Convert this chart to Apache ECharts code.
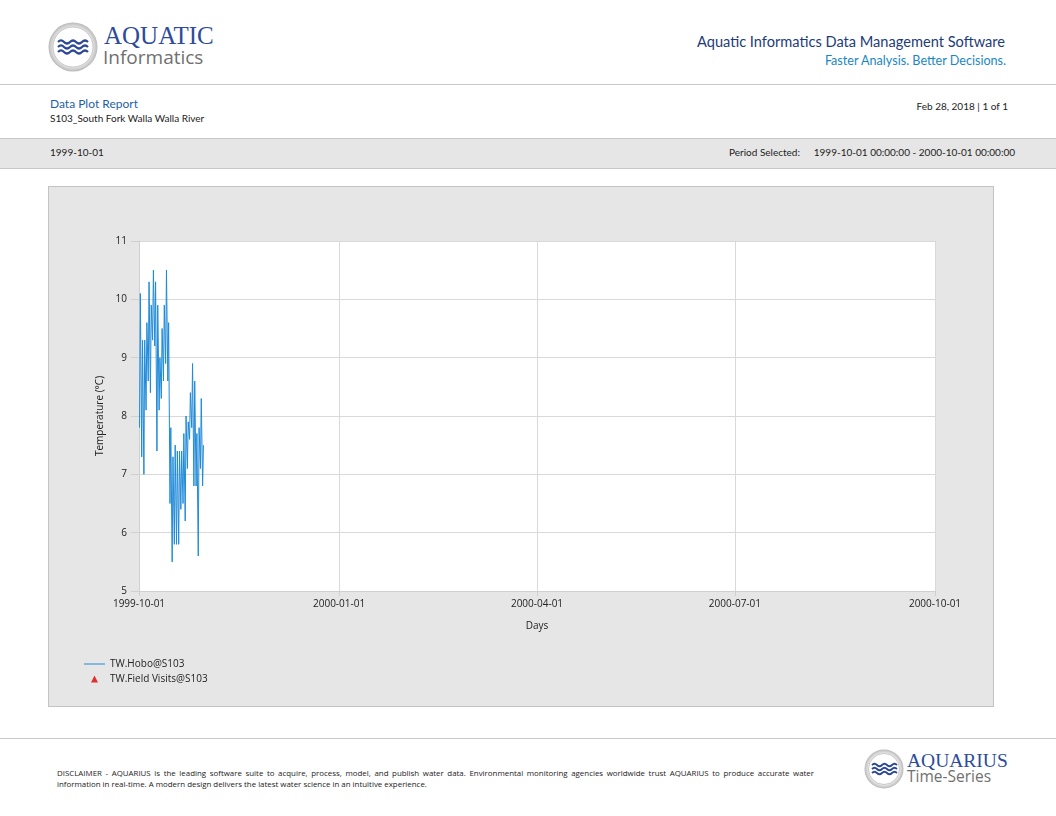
<!DOCTYPE html>
<html>
<head>
<meta charset="utf-8">
<script src="https://cdn.jsdelivr.net/npm/echarts@6/dist/echarts.min.js"></script>
<style>
  html, body { margin:0; padding:0; background:#fff; }
  body { width:1056px; height:816px; position:relative; overflow:hidden; font-family:"Open Sans", Lato, sans-serif; }
  .abs { position:absolute; white-space:nowrap; line-height:1.15; }
  #chart { position:absolute; left:48px; top:186px; width:946px; height:521px; }
  #panel { position:absolute; left:48px; top:186px; width:944px; height:519px; background:#e6e6e6; border:1px solid #c3c3c3; }
</style>
</head>
<body>
<!-- header logo -->
<svg class="abs" style="left:46px;top:21px" width="56" height="54" viewBox="0 0 56 54">
  <defs>
    <radialGradient id="rg" cx="50%" cy="50%" r="50%">
      <stop offset="80%" stop-color="#e8e8e8"/>
      <stop offset="100%" stop-color="#b9b9b9"/>
    </radialGradient>
  </defs>
  <circle cx="27" cy="26" r="24.5" fill="url(#rg)"/>
  <circle cx="27" cy="26" r="20" fill="#fff" stroke="#c9c9c9" stroke-width="1"/>
  <g fill="none" stroke="#2b4796" stroke-width="2.2">
    <path d="M12 21 q3 -3 6 0 t6 0 t6 0 t6 0 t6 0"/>
    <path d="M12 26 q3 -3 6 0 t6 0 t6 0 t6 0 t6 0"/>
    <path d="M12 31 q3 -3 6 0 t6 0 t6 0 t6 0 t6 0"/>
  </g>
</svg>
<div class="abs" style="left:104px;top:22px;font-family:'Liberation Serif',serif;font-size:25px;color:#2d4b9a">AQUATIC</div>
<div class="abs" style="left:103px;top:47px;font-family:'Open Sans',sans-serif;font-size:19px;color:#707070">Informatics</div>

<div class="abs" style="right:51px;top:34px;font-family:Lato,sans-serif;font-size:14.6px;color:#1d3c78">Aquatic Informatics Data Management Software</div>
<div class="abs" style="right:50px;top:54px;font-family:Lato,sans-serif;font-size:12.6px;color:#1b87c2">Faster Analysis. Better Decisions.</div>

<div class="abs" style="left:0;top:84px;width:1056px;height:1px;background:#c8c8c8"></div>

<div class="abs" style="left:50px;top:97px;font-family:Lato,sans-serif;font-size:12px;color:#1f5fa8">Data Plot Report</div>
<div class="abs" style="left:50px;top:113px;font-family:Lato,sans-serif;font-size:10px;color:#222">S103_South Fork Walla Walla River</div>
<div class="abs" style="right:48px;top:101px;font-family:Lato,sans-serif;font-size:10px;color:#222">Feb 28, 2018 | 1 of 1</div>

<div class="abs" style="left:0;top:138px;width:1056px;height:29px;background:#e6e6e6;border-top:1px solid #c8c8c8;border-bottom:1px solid #c8c8c8"></div>
<div class="abs" style="left:50px;top:147px;font-family:Lato,sans-serif;font-size:10px;color:#222">1999-10-01</div>
<div class="abs" style="left:729px;top:147px;font-family:Lato,sans-serif;font-size:10px;color:#222">Period Selected:</div>
<div class="abs" style="right:41px;top:147px;font-family:Lato,sans-serif;font-size:10px;color:#222">1999-10-01 00:00:00 - 2000-10-01 00:00:00</div>

<div id="panel"></div>
<div id="chart"></div>

<div class="abs" style="left:0;top:738px;width:1056px;height:1px;background:#c8c8c8"></div>
<div class="abs" style="left:57px;top:768px;width:757px;white-space:normal;text-align:justify;text-align-last:left;font-family:'Open Sans',sans-serif;font-size:7.9px;line-height:11px;color:#222">DISCLAIMER - AQUARIUS is the leading software suite to acquire, process, model, and publish water data. Environmental monitoring agencies worldwide trust AQUARIUS to produce accurate water information in real-time. A modern design delivers the latest water science in an intuitive experience.</div>

<svg class="abs" style="left:863px;top:748px" width="42" height="42" viewBox="0 0 42 42">
  <circle cx="21" cy="21" r="19.5" fill="url(#rg)"/>
  <circle cx="21" cy="21" r="15.5" fill="#fff" stroke="#c9c9c9" stroke-width="1"/>
  <g fill="none" stroke="#2b4796" stroke-width="1.8">
    <path d="M9 17 q2.5 -2.5 5 0 t5 0 t5 0 t5 0 t5 0"/>
    <path d="M9 21 q2.5 -2.5 5 0 t5 0 t5 0 t5 0 t5 0"/>
    <path d="M9 25 q2.5 -2.5 5 0 t5 0 t5 0 t5 0 t5 0"/>
  </g>
</svg>
<div class="abs" style="left:907px;top:750px;font-family:'Liberation Serif',serif;font-size:19.5px;color:#2d4b9a">AQUARIUS</div>
<div class="abs" style="left:907px;top:768px;font-family:'Open Sans',sans-serif;font-size:15.5px;color:#707070">Time-Series</div>

<script>
// ---- data ----
const startDate = [1999, 10, 1];
// daily maxima / minima of TW.Hobo@S103, Oct 1 .. Oct 30, 1999
const dailyMax = [10.1, 9.3, 9.3, 9.6, 10.3, 9.9, 10.5, 10.3, 9.9, 9.0,
                  9.5, 9.9, 10.5, 9.6, 7.8, 7.3, 7.5, 7.4, 7.4, 7.4,
                  7.7, 8.0, 7.9, 8.4, 8.9, 8.6, 7.7, 7.8, 8.3, 7.5];
const dailyMin = [7.8, 7.3, 7.0, 8.1, 8.6, 8.4, 9.3, 9.2, 7.4, 8.1,
                  8.3, 8.6, 8.9, 8.6, 6.5, 5.5, 5.8, 5.8, 5.8, 6.4,
                  6.5, 6.2, 7.1, 7.6, 7.8, 6.8, 6.8, 5.6, 7.1, 6.8];
const fieldVisits = [];
const seriesNames = ['TW.Hobo@S103', 'TW.Field Visits@S103'];
const xTickLabels = ['1999-10-01', '2000-01-01', '2000-04-01', '2000-07-01', '2000-10-01'];
const yMin = 5, yMax = 11, yStep = 1;

function ts(s) { const p = s.split('-').map(Number); return new Date(p[0], p[1] - 1, p[2]).getTime(); }
const xTicks = xTickLabels.map(ts);

const hobo = [];
for (let i = 0; i < dailyMax.length; i++) {
  const d0 = new Date(startDate[0], startDate[1] - 1, startDate[2] + i);
  hobo.push([d0.getTime() + 6 * 3600e3, dailyMin[i]]);
  hobo.push([d0.getTime() + 15 * 3600e3, dailyMax[i]]);
}

function fmt(v) {
  const d = new Date(v);
  const p = n => (n < 10 ? '0' : '') + n;
  return d.getFullYear() + '-' + p(d.getMonth() + 1) + '-' + p(d.getDate());
}

const chart = echarts.init(document.getElementById('chart'), null, { renderer: 'canvas' });
const txt = () => ({ fontFamily: 'Open Sans', fontSize: 10, color: '#222' });
chart.setOption({
  backgroundColor: 'transparent',
  animation: false,
  textStyle: { fontFamily: 'Open Sans' },
  grid: { left: 91, top: 55, right: 59, bottom: 116, backgroundColor: '#fff', show: true, borderWidth: 0 },
  xAxis: {
    type: 'value',
    min: xTicks[0], max: xTicks[xTicks.length - 1],
    name: 'Days', nameLocation: 'middle', nameGap: 30,
    nameTextStyle: txt(),
    axisLine: { show: true, lineStyle: { color: '#d0d0d0', width: 1 } },
    axisTick: { show: true, length: 5, lineStyle: { color: '#d0d0d0' }, customValues: xTicks },
    axisLabel: Object.assign({ margin: 8, customValues: xTicks, formatter: v => fmt(v) }, txt()),
    splitLine: { show: true, lineStyle: { color: '#d9d9d9', width: 1 } }
  },
  yAxis: {
    type: 'value', min: yMin, max: yMax, interval: yStep,
    name: 'Temperature (°C)', nameLocation: 'middle', nameGap: 34,
    nameTextStyle: txt(),
    axisLine: { show: true, lineStyle: { color: '#d0d0d0', width: 1 } },
    axisTick: { show: true, length: 8, lineStyle: { color: '#d0d0d0' } },
    axisLabel: Object.assign({ margin: 12 }, txt()),
    splitLine: { show: true, lineStyle: { color: '#d9d9d9', width: 1 } }
  },
  legend: {
    show: true,
    orient: 'vertical', left: 36, top: 473, padding: 0,
    itemWidth: 21, itemHeight: 7, itemGap: 5,
    symbolKeepAspect: true,
    textStyle: txt(),
    data: [
      { name: seriesNames[0], icon: 'path://M0,0 L21,0 L21,1 L0,1 Z' },
      { name: seriesNames[1], icon: 'path://M3,0 L6,6 L0,6 Z' }
    ]
  },
  series: [
    { name: seriesNames[0], type: 'line', data: hobo, symbol: 'none', showSymbol: false,
      lineStyle: { color: '#1f8ad8', width: 1 }, itemStyle: { color: '#1f8ad8' } },
    { name: seriesNames[1], type: 'scatter', data: fieldVisits, symbol: 'triangle', symbolSize: 7,
      itemStyle: { color: '#e00000' } }
  ]
});
</script>
</body>
</html>
